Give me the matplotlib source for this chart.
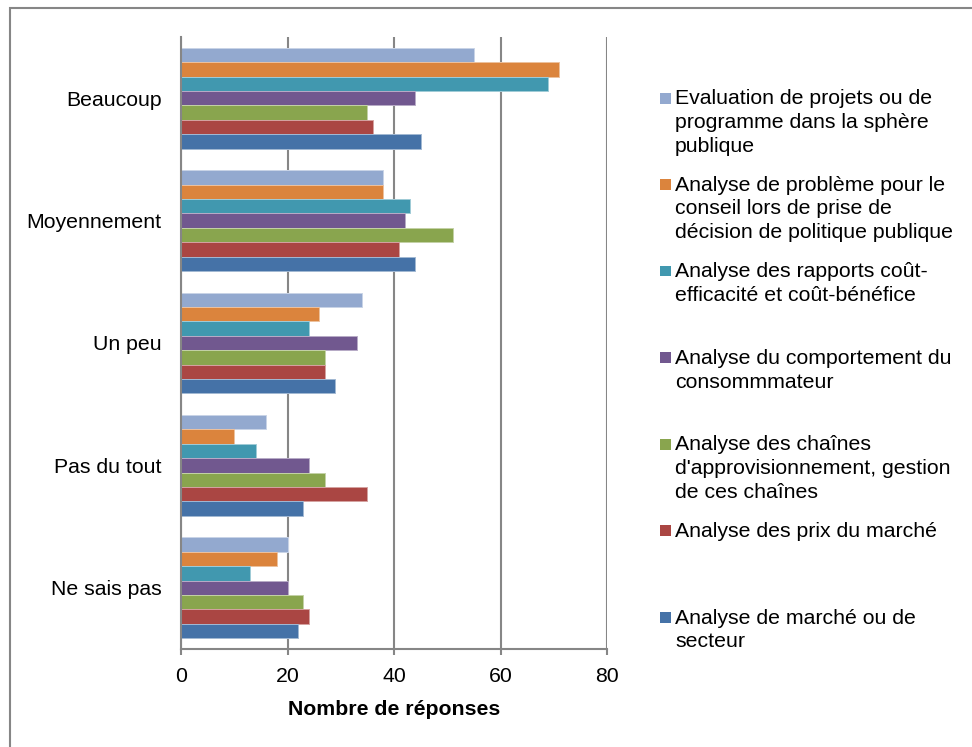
import matplotlib
matplotlib.use("Agg")
import matplotlib.pyplot as plt
from matplotlib.patches import Rectangle
import numpy as np

plt.rcParams['font.family'] = ['Liberation Sans', 'DejaVu Sans']

categories = ["Beaucoup", "Moyennement", "Un peu", "Pas du tout", "Ne sais pas"]

series_names = [
    "Evaluation de projets ou de\nprogramme dans la sphère\npublique",
    "Analyse de problème pour le\nconseil lors de prise de\ndécision de politique publique",
    "Analyse des rapports coût-\nefficacité et coût-bénéfice",
    "Analyse du comportement du\nconsommmateur",
    "Analyse des chaînes\nd'approvisionnement, gestion\nde ces chaînes",
    "Analyse des prix du marché",
    "Analyse de marché ou de\nsecteur",
]

evaluation = [55, 38, 34, 16, 20]
probleme = [71, 38, 26, 10, 18]
rapports = [69, 43, 24, 14, 13]
comportement = [44, 42, 33, 24, 20]
chaines = [35, 51, 27, 27, 23]
prix = [36, 41, 27, 35, 24]
marche = [45, 44, 29, 23, 22]

series_values = [evaluation, probleme, rapports, comportement, chaines, prix, marche]
colors = ["#93A9CF", "#DB843D", "#4198AF", "#71588F", "#89A54E", "#AA4643", "#4572A7"]
edge_colors = ["#C9D4E7", "#EDC19E", "#A0CBD7", "#B8ABC7", "#C4D2A6", "#D4A2A1", "#A2B8D3"]

xticks = [0, 20, 40, 60, 80]
xlabel = "Nombre de réponses"

W, H = 972, 747
fig = plt.figure(figsize=(W / 100, H / 100), dpi=100)
ax = fig.add_axes([181 / W, (H - 649) / H, (607 - 181) / W, (649 - 37) / H])

n = len(series_values)
h = 1.0 / (n + 1.5)
y = np.arange(len(categories))
for j, (vals, c, ec) in enumerate(zip(series_values, colors, edge_colors)):
    ax.barh(y + (j - (n - 1) / 2) * h, vals, height=h, color=c,
            edgecolor=ec, linewidth=0.7, zorder=3)

ax.set_xlim(0, 80)
ax.set_ylim(len(categories) - 0.5, -0.5)
ax.set_xticks(xticks)
ax.set_yticks(y)
ax.set_yticklabels(categories)
ax.grid(axis='x', color='#868686', linewidth=1.5, zorder=0)
grey = '#868686'
for s in ['top', 'right']:
    ax.spines[s].set_visible(False)
for s in ['left', 'bottom']:
    ax.spines[s].set_color(grey)
    ax.spines[s].set_linewidth(1.5)
    ax.spines[s].set_zorder(4)
ax.tick_params(axis='y', length=0, pad=14, labelsize=15.3)
ax.tick_params(axis='x', length=4, width=1.5, color=grey, pad=9, labelsize=15.3)
ax.set_xlabel(xlabel, fontsize=15.3, fontweight='bold', labelpad=10)

# Legend (manual, Excel-like layout)
first_y = 98
step = 86.5
for j, (name, c) in enumerate(zip(series_names, colors)):
    yc = first_y + j * step
    fig.patches.append(Rectangle((660 / W, 1 - (yc + 5.5) / H), 11 / W, 11 / H,
                                 transform=fig.transFigure, facecolor=c,
                                 edgecolor='none'))
    fig.text(675 / W, 1 - (yc - 8.5) / H, name, fontsize=15.3, va='top', ha='left',
             linespacing=1.3)

# Outer border
fig.patches.append(Rectangle((10 / W, -0.05), 1.0, 1 - 7.5 / H + 0.05,
                             transform=fig.transFigure, fill=False,
                             edgecolor=grey, linewidth=1.5))

fig.savefig("out.png", dpi=100)
